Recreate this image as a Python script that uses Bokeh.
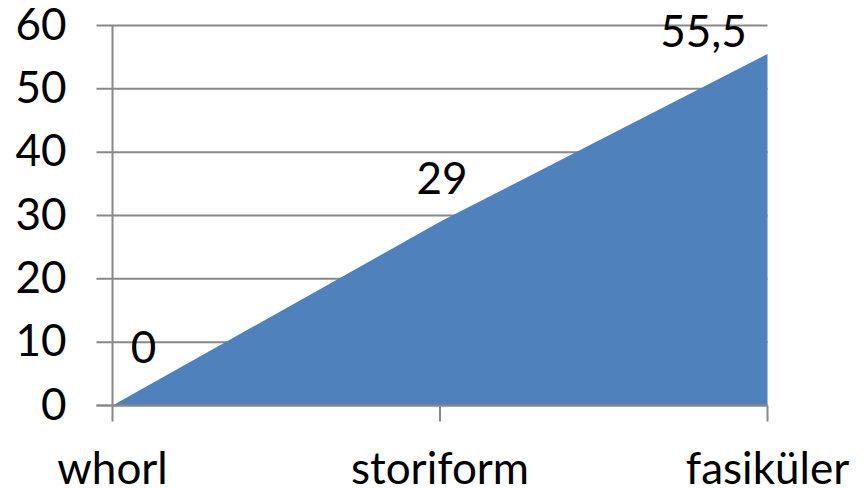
from bokeh.plotting import figure
from bokeh.models import Range1d
from bokeh.core.properties import value
from bokeh.embed import file_html
from bokeh.resources import INLINE

# Chart data
categories = ["whorl", "storiform", "fasiküler"]
values = [0, 29, 55.5]
y_ticks = [0, 10, 20, 30, 40, 50, 60]

# screen offsets (px, y down) of each value label from its point
label_dx = [31, 2, -64]
label_dy = [-59, -44, -23]

FONT = "Lato"
FONT_SIZE = "44px"
GRAY = "#888888"
W, H = 868, 488

# plot-area geometry in page pixels
LEFT, RIGHT, TOP, BOTTOM = 112, 767, 25, 405
TICK = 16              # tick length
YLABEL_RIGHT = 66      # right edge of the value-axis labels
XLABEL_DY = 61         # category labels below the axis

xs = list(range(len(categories)))
x_max = xs[-1]
y_max = y_ticks[-1]
x_unit = (RIGHT - LEFT) / x_max          # px per category step
y_unit = (BOTTOM - TOP) / y_max          # px per value unit

x_start = -LEFT / x_unit
x_end = x_max + (W - RIGHT) / x_unit
y_start = -(H - BOTTOM) / y_unit
y_end = y_max + TOP / y_unit
tick_dx = TICK / x_unit
tick_dy = TICK / y_unit
ylab_x = -(LEFT - YLABEL_RIGHT) / x_unit


def fmt(v):
    return ("%g" % v).replace(".", ",")


p = figure(width=W, height=H, output_backend="svg", toolbar_location=None,
           x_range=Range1d(x_start, x_end), y_range=Range1d(y_start, y_end),
           x_axis_location=None, y_axis_location=None,
           min_border_left=0, min_border_right=0, min_border_top=0,
           min_border_bottom=0)
p.outline_line_color = None
p.background_fill_color = "white"
p.border_fill_color = "white"
p.xgrid.grid_line_color = None
p.ygrid.grid_line_color = None

# horizontal gridlines (with their tick stubs on the left)
n = len(y_ticks)
p.segment(x0=[-tick_dx] * n, y0=y_ticks, x1=[x_max] * n, y1=y_ticks,
          line_color=GRAY, line_width=2)

# filled area
p.varea(x=xs, y1=[0] * len(values), y2=values, fill_color="#4F81BD")

# axis lines and category ticks on top of the area
p.segment(x0=[-tick_dx], y0=[0], x1=[x_max], y1=[0], line_color=GRAY, line_width=2)
p.segment(x0=[0], y0=[-tick_dy], x1=[0], y1=[y_max], line_color=GRAY, line_width=2)
p.segment(x0=xs[1:], y0=[0] * (len(xs) - 1), x1=xs[1:], y1=[-tick_dy] * (len(xs) - 1),
          line_color=GRAY, line_width=2)

text_style = dict(text_font=value(FONT), text_font_size=FONT_SIZE,
                  text_color="black", text_baseline="alphabetic")

# value-axis labels
p.text(x=[ylab_x] * n, y=y_ticks, text=[str(t) for t in y_ticks],
       y_offset=-2, text_align="right",
       **dict(text_style, text_baseline="middle"))

# value labels
p.text(x=xs, y=values, text=[fmt(v) for v in values],
       x_offset=label_dx, y_offset=label_dy, text_align="center", **text_style)

# category labels
p.text(x=xs, y=[0] * len(xs), text=categories, y_offset=XLABEL_DY,
       text_align="center", **text_style)

open("out.html", "w").write(file_html(p, INLINE))
